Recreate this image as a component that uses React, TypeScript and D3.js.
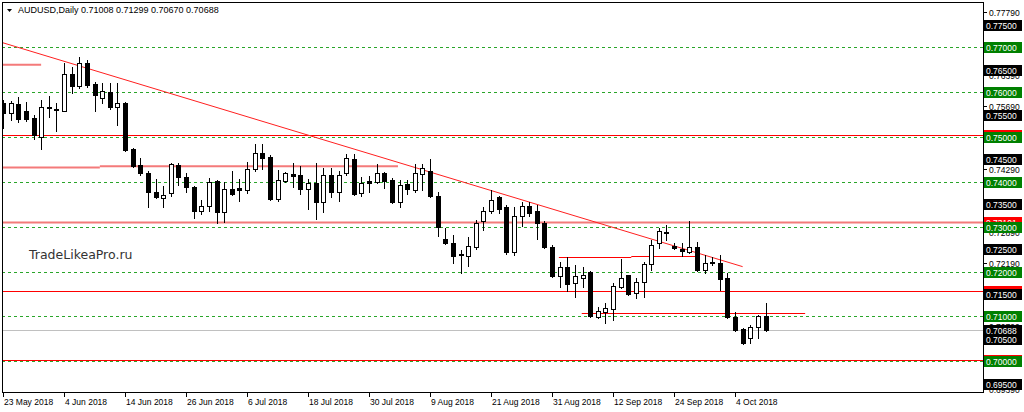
import React from 'react';
import * as d3 from 'd3';

// AUDUSD daily bars, 23 May 2018 .. 10 Oct 2018
const dates = [
  '2018-05-23', '2018-05-24', '2018-05-25', '2018-05-28', '2018-05-29', '2018-05-30', '2018-05-31', '2018-06-01',
  '2018-06-04', '2018-06-05', '2018-06-06', '2018-06-07', '2018-06-08', '2018-06-11', '2018-06-12', '2018-06-13',
  '2018-06-14', '2018-06-15', '2018-06-18', '2018-06-19', '2018-06-20', '2018-06-21', '2018-06-22', '2018-06-25',
  '2018-06-26', '2018-06-27', '2018-06-28', '2018-06-29', '2018-07-02', '2018-07-03', '2018-07-04', '2018-07-05',
  '2018-07-06', '2018-07-09', '2018-07-10', '2018-07-11', '2018-07-12', '2018-07-13', '2018-07-16', '2018-07-17',
  '2018-07-18', '2018-07-19', '2018-07-20', '2018-07-23', '2018-07-24', '2018-07-25', '2018-07-26', '2018-07-27',
  '2018-07-30', '2018-07-31', '2018-08-01', '2018-08-02', '2018-08-03', '2018-08-06', '2018-08-07', '2018-08-08',
  '2018-08-09', '2018-08-10', '2018-08-13', '2018-08-14', '2018-08-15', '2018-08-16', '2018-08-17', '2018-08-20',
  '2018-08-21', '2018-08-22', '2018-08-23', '2018-08-24', '2018-08-27', '2018-08-28', '2018-08-29', '2018-08-30',
  '2018-08-31', '2018-09-03', '2018-09-04', '2018-09-05', '2018-09-06', '2018-09-07', '2018-09-10', '2018-09-11',
  '2018-09-12', '2018-09-13', '2018-09-14', '2018-09-17', '2018-09-18', '2018-09-19', '2018-09-20', '2018-09-21',
  '2018-09-24', '2018-09-25', '2018-09-26', '2018-09-27', '2018-09-28', '2018-10-01', '2018-10-02', '2018-10-03',
  '2018-10-04', '2018-10-05', '2018-10-08', '2018-10-09', '2018-10-10',
];

const open = [
  0.7576, 0.7554, 0.7574, 0.7558, 0.7543, 0.7500, 0.7567, 0.7563, 0.7558, 0.7641, 0.7614, 0.7665, 0.7618, 0.7587, 0.7601, 0.7567,
  0.7576, 0.7473, 0.7438, 0.7420, 0.7378, 0.7364, 0.7375, 0.7438, 0.7411, 0.7389, 0.7335, 0.7346, 0.7402, 0.7333, 0.7384, 0.7387,
  0.7382, 0.7429, 0.7464, 0.7456, 0.7362, 0.7402, 0.7418, 0.7415, 0.7384, 0.7398, 0.7355, 0.7415, 0.7378, 0.7420, 0.7451, 0.7375,
  0.7402, 0.7400, 0.7420, 0.7404, 0.7355, 0.7395, 0.7382, 0.7418, 0.7424, 0.7369, 0.7273, 0.7264, 0.7239, 0.7235, 0.7255, 0.7313,
  0.7335, 0.7366, 0.7344, 0.7244, 0.7324, 0.7346, 0.7335, 0.7308, 0.7255, 0.7190, 0.7210, 0.7175, 0.7186, 0.7199, 0.7099, 0.7110,
  0.7117, 0.7166, 0.7192, 0.7152, 0.7177, 0.7217, 0.7264, 0.7288, 0.7257, 0.7250, 0.7244, 0.7255, 0.7204, 0.7219, 0.7219, 0.7186,
  0.7099, 0.7072, 0.7052, 0.7076, 0.71008,
];
const high = [
  0.7583, 0.7581, 0.7590, 0.7578, 0.7549, 0.7583, 0.7592, 0.7576, 0.7665, 0.7656, 0.7679, 0.7672, 0.7623, 0.7621, 0.7621, 0.7621,
  0.7578, 0.7476, 0.7453, 0.7424, 0.7407, 0.7391, 0.7442, 0.7442, 0.7420, 0.7391, 0.7360, 0.7409, 0.7404, 0.7400, 0.7424, 0.7407,
  0.7444, 0.7485, 0.7485, 0.7460, 0.7427, 0.7422, 0.7442, 0.7436, 0.7407, 0.7442, 0.7431, 0.7431, 0.7424, 0.7462, 0.7462, 0.7411,
  0.7413, 0.7440, 0.7422, 0.7409, 0.7404, 0.7404, 0.7440, 0.7440, 0.7451, 0.7378, 0.7297, 0.7282, 0.7248, 0.7277, 0.7315, 0.7344,
  0.7382, 0.7369, 0.7349, 0.7344, 0.7355, 0.7355, 0.7349, 0.7313, 0.7259, 0.7221, 0.7233, 0.7215, 0.7210, 0.7201, 0.7121, 0.7130,
  0.7175, 0.7228, 0.7193, 0.7186, 0.7221, 0.7271, 0.7297, 0.7304, 0.7264, 0.7264, 0.7313, 0.7266, 0.7237, 0.7233, 0.7237, 0.7197,
  0.7110, 0.7074, 0.7081, 0.7103, 0.71299,
];
const low = [
  0.7520, 0.7538, 0.7534, 0.7536, 0.7496, 0.7473, 0.7545, 0.7514, 0.7557, 0.7598, 0.7609, 0.7612, 0.7558, 0.7576, 0.7563, 0.7527,
  0.7469, 0.7433, 0.7415, 0.7344, 0.7364, 0.7344, 0.7369, 0.7393, 0.7378, 0.7320, 0.7328, 0.7335, 0.7308, 0.7311, 0.7371, 0.7357,
  0.7375, 0.7424, 0.7429, 0.7360, 0.7357, 0.7400, 0.7389, 0.7373, 0.7340, 0.7317, 0.7333, 0.7366, 0.7357, 0.7415, 0.7371, 0.7369,
  0.7378, 0.7398, 0.7387, 0.7353, 0.7344, 0.7373, 0.7378, 0.7382, 0.7366, 0.7279, 0.7262, 0.7219, 0.7197, 0.7213, 0.7250, 0.7293,
  0.7331, 0.7331, 0.7239, 0.7237, 0.7302, 0.7324, 0.7273, 0.7253, 0.7188, 0.7166, 0.7157, 0.7144, 0.7166, 0.7099, 0.7097, 0.7085,
  0.7092, 0.7164, 0.7148, 0.7141, 0.7143, 0.7204, 0.7253, 0.7271, 0.7250, 0.7235, 0.7242, 0.7201, 0.7197, 0.7215, 0.7159, 0.7097,
  0.7068, 0.7039, 0.7041, 0.7052, 0.70670,
];
const close = [
  0.7554, 0.7576, 0.7540, 0.7540, 0.7505, 0.7567, 0.7565, 0.7562, 0.7641, 0.7614, 0.7665, 0.7616, 0.7594, 0.7603, 0.7567, 0.7576,
  0.7471, 0.7435, 0.7420, 0.7378, 0.7366, 0.7371, 0.7440, 0.7411, 0.7389, 0.7335, 0.7346, 0.7400, 0.7333, 0.7384, 0.7373, 0.7382,
  0.7429, 0.7464, 0.7453, 0.7362, 0.7404, 0.7420, 0.7413, 0.7384, 0.7398, 0.7355, 0.7415, 0.7378, 0.7415, 0.7453, 0.7373, 0.7398,
  0.7398, 0.7420, 0.7402, 0.7355, 0.7393, 0.7384, 0.7420, 0.7431, 0.7369, 0.7300, 0.7264, 0.7235, 0.7237, 0.7257, 0.7308, 0.7335,
  0.7360, 0.7340, 0.7244, 0.7324, 0.7346, 0.7331, 0.7308, 0.7255, 0.7190, 0.7210, 0.7172, 0.7190, 0.7192, 0.7101, 0.7112, 0.7119,
  0.7168, 0.7186, 0.7150, 0.7177, 0.7217, 0.7259, 0.7291, 0.7286, 0.7253, 0.7246, 0.7255, 0.7204, 0.7219, 0.7221, 0.7184, 0.7099,
  0.7070, 0.7041, 0.7076, 0.7101, 0.70688,
];

// right price scale (only the grid labels that are not hidden behind a level box)
const priceTicks = [0.6939, 0.7079, 0.7219, 0.7289, 0.7429, 0.7569, 0.7639, 0.7779];
const roundLevels = [0.70, 0.71, 0.72, 0.73, 0.74, 0.75, 0.76, 0.77];
const halfLevels = [0.695, 0.705, 0.715, 0.725, 0.735, 0.745, 0.755, 0.765, 0.775];
const redLevels = [0.7504, 0.73101, 0.71574, 0.7003];
const redLevelShown = 0.73101;
const lastPrice = 0.70688;

// drawn objects: [from bar, to bar, price]
const pinkSegments = [
  [-0.2, 5, 0.7661],
  [-0.2, 12.7, 0.7432],
  [12.7, 51.8, 0.7435],
];
const redSegments = [
  [72.9, 82.4, 0.7233],
  [82.4, 91, 0.7235],
  [75.9, 105.2, 0.7107],
];
const trendLine = [[0, 0.771], [97, 0.7211]];

const W = 1024;
const H = 412;
const plot = { left: 2, right: 983, top: 2, bottom: 392 };
const font = '"Liberation Sans", Arial, sans-serif';

export default function App() {
  const x = d3.scaleLinear().domain([0, 100]).range([3, 765.5]);
  const y = d3.scaleLinear().domain([0.7, 0.77]).range([361.3, 47.3]);
  const parse = d3.timeParse('%Y-%m-%d');
  const fmtDate = d3.timeFormat('%-d %b %Y');
  const fmt = d3.format('.5f');
  const py = (v: number) => Math.round(y(v)) + 0.5;

  const dateTicks = d3.range(0, dates.length, 8);
  const trendPath = d3.line<number[]>().x(d => x(d[0])).y(d => y(d[1]))(trendLine) || '';

  const label = (v: number, bg: string, key: string, showText = true) => {
    const cy = Math.round(y(v));
    return (
      <g key={key}>
        <rect x={984} y={cy - 5} width={38} height={11} fill={bg} />
        {showText && (
          <text x={986} y={cy + 3.5} fontSize={8.5} fill="#fff" fontFamily={font}>{fmt(v)}</text>
        )}
      </g>
    );
  };

  return (
    <div style={{ position: 'absolute', left: 0, top: 0 }}>
      <svg width={W} height={H} style={{ display: 'block', background: '#fff' }}>
        <defs>
          <clipPath id="plotClip">
            <rect x={plot.left} y={plot.top} width={plot.right - plot.left} height={plot.bottom - plot.top} />
          </clipPath>
        </defs>

        <g clipPath="url(#plotClip)">
          {roundLevels.map(v => (
            <line key={'g' + v} x1={plot.left} x2={plot.right} y1={py(v)} y2={py(v)}
              stroke="#2aa52a" strokeDasharray="3 3" />
          ))}
          <line x1={plot.left} x2={plot.right} y1={py(lastPrice)} y2={py(lastPrice)} stroke="#c0c0c0" />
          {redLevels.map(v => (
            <line key={'r' + v} x1={plot.left} x2={plot.right} y1={py(v)} y2={py(v)}
              stroke={v === redLevelShown ? '#f47a7a' : '#ff0000'} strokeWidth={v === redLevelShown ? 2 : 1} />
          ))}
          {pinkSegments.map((s, i) => (
            <line key={'p' + i} x1={x(s[0])} x2={x(s[1])} y1={y(s[2])} y2={y(s[2])} stroke="#f47a7a" strokeWidth={2} />
          ))}
          {redSegments.map((s, i) => (
            <line key={'s' + i} x1={x(s[0])} x2={x(s[1])} y1={py(s[2])} y2={py(s[2])} stroke="#ff0000" />
          ))}
          <path d={trendPath} stroke="#ff2020" strokeWidth={1} fill="none" />

          {dates.map((d, i) => {
            const cx = Math.round(x(i));
            const o = open[i];
            const c = close[i];
            const top = Math.round(y(Math.max(o, c)));
            const bot = Math.max(Math.round(y(Math.min(o, c))), top + 1);
            const up = c > o;
            return (
              <g key={d}>
                <line x1={cx + 0.5} x2={cx + 0.5} y1={Math.round(y(high[i]))} y2={Math.round(y(low[i])) + 1} stroke="#000" />
                <rect x={cx - 1.5} y={top + 0.5} width={4} height={bot - top} fill={up ? '#fff' : '#000'} stroke="#000" />
              </g>
            );
          })}

          <text x={29} y={259} fontSize={12.5} fill="#333" fontFamily='"DejaVu Sans", sans-serif'>TradeLikeaPro.ru</text>
        </g>

        <rect x={plot.left + 0.5} y={plot.top + 0.5} width={plot.right - plot.left} height={plot.bottom - plot.top}
          fill="none" stroke="#000" />

        {/* header */}
        <path d="M7,9 L12,9 L9.5,12 Z" fill="#000" />
        <text x={18} y={13} fontSize={9} fill="#000" fontFamily={font}>
          {'AUDUSD,Daily  ' + [open, high, low, close].map(a => fmt(a[a.length - 1])).join(' ')}
        </text>

        {/* price axis */}
        {priceTicks.map(v => (
          <g key={'t' + v}>
            <line x1={plot.right} x2={plot.right + 4} y1={py(v)} y2={py(v)} stroke="#000" />
            <text x={989} y={Math.round(y(v)) + 3.5} fontSize={8.5} fill="#000" fontFamily={font}>{fmt(v)}</text>
          </g>
        ))}
        {redLevels.map(v => label(v, '#ff0000', 'rl' + v, v === redLevelShown))}
        {label(lastPrice, '#000', 'last')}
        {halfLevels.map(v => label(v, '#000', 'hl' + v))}
        {roundLevels.map(v => label(v, '#008000', 'gl' + v))}

        {/* time axis */}
        {dateTicks.map(i => {
          const tx = Math.round(x(i)) + 0.5;
          return (
            <g key={'d' + i}>
              <line x1={tx} x2={tx} y1={plot.bottom} y2={plot.bottom + 5} stroke="#000" />
              <text x={tx + 0.5} y={405} fontSize={8.5} fill="#000" fontFamily={font}>{fmtDate(parse(dates[i]) as Date)}</text>
            </g>
          );
        })}
      </svg>
    </div>
  );
}
